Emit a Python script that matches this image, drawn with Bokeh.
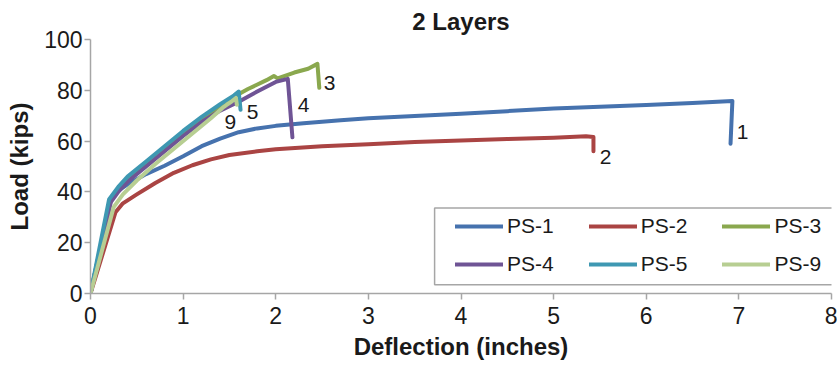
from bokeh.plotting import figure
from bokeh.models import Legend, LegendItem, Range1d, FixedTicker, BoxAnnotation
from bokeh.core.properties import value
from bokeh.embed import file_html
from bokeh.resources import INLINE

# ---- data ----
ps1_x = [0, 0.22, 0.3, 0.4, 0.5, 0.6, 0.8, 1.0, 1.2, 1.4, 1.6, 1.8, 2.0, 2.3, 2.7, 3.0, 3.5, 4.0, 4.5, 5.0, 5.5, 6.0, 6.5, 6.93, 6.91]
ps1_y = [0, 37, 40.5, 43, 45, 47, 50.3, 54, 58, 61, 63.5, 65, 66, 67, 68.2, 69, 69.9, 70.8, 71.8, 72.8, 73.5, 74.2, 75, 75.8, 59]

ps2_x = [0, 0.27, 0.35, 0.5, 0.7, 0.9, 1.1, 1.3, 1.5, 1.8, 2.0, 2.5, 3.0, 3.5, 4.0, 4.5, 5.0, 5.35, 5.43, 5.43]
ps2_y = [0, 32, 35.5, 39, 43.5, 47.5, 50.5, 52.8, 54.5, 56, 56.8, 58, 58.8, 59.6, 60.2, 60.8, 61.3, 61.9, 61.6, 56]

ps3_x = [0, 0.22, 0.3, 0.4, 0.5, 0.7, 0.9, 1.1, 1.3, 1.5, 1.7, 1.9, 1.98, 2.02, 2.2, 2.35, 2.45, 2.47]
ps3_y = [0, 37, 41, 45, 48.5, 54.5, 60, 65.5, 71, 76.5, 80.5, 84, 85.6, 84.7, 87, 88.5, 90.4, 81]

ps4_x = [0, 0.22, 0.3, 0.4, 0.6, 0.8, 1.0, 1.2, 1.4, 1.6, 1.8, 2.0, 2.13, 2.18]
ps4_y = [0, 36, 40, 44, 50, 56, 62, 67.5, 72, 75.5, 79.5, 83.3, 84.5, 61.5]

ps5_x = [0, 0.2, 0.3, 0.4, 0.6, 0.8, 1.0, 1.2, 1.4, 1.55, 1.6, 1.62]
ps5_y = [0, 37, 42, 46, 52, 58, 64, 69.5, 74.5, 78, 79.5, 72.3]

ps9_x = [0, 0.25, 0.35, 0.5, 0.7, 0.9, 1.1, 1.3, 1.44, 1.47, 1.52, 1.57, 1.58]
ps9_y = [0, 34, 39, 44.5, 51, 57, 63, 69, 73.5, 74.3, 75.5, 77, 74.3]

series_names = ["PS-1", "PS-2", "PS-3", "PS-4", "PS-5", "PS-9"]
series_colors = ["#4672AE", "#AA4443", "#8AA84E", "#6F5495", "#3E98B2", "#B7CE92"]

end_labels = ["1", "2", "3", "4", "5", "9"]
end_label_x = [7.04, 5.56, 2.58, 2.30, 1.75, 1.51]
end_label_y = [63.4, 53.6, 82.7, 74.3, 71.6, 67.5]

x_ticks = [0, 1, 2, 3, 4, 5, 6, 7, 8]
y_ticks = [0, 20, 40, 60, 80, 100]

FONT = "Liberation Sans"
AXIS_GRAY = "#a6a6a6"
TXT = "#1a1a1a"

p = figure(width=837, height=365, output_backend="svg", toolbar_location=None,
           x_range=Range1d(0, 8), y_range=Range1d(0, 100),
           min_border_left=90, min_border_right=6, min_border_top=37, min_border_bottom=72,
           title="2 Layers")
p.outline_line_color = None
p.xgrid.grid_line_color = None
p.ygrid.grid_line_color = None
p.background_fill_color = "white"
p.border_fill_color = "white"

p.title.align = "center"
p.title.text_font = FONT
p.title.text_font_size = "24px"
p.title.text_font_style = "bold"
p.title.text_color = TXT

for ax, ticks in ((p.xaxis[0], x_ticks), (p.yaxis[0], y_ticks)):
    ax.ticker = FixedTicker(ticks=ticks)
    ax.minor_tick_line_color = None
    ax.axis_line_color = AXIS_GRAY
    ax.axis_line_width = 1.5
    ax.major_tick_line_color = AXIS_GRAY
    ax.major_tick_line_width = 1.5
    ax.major_tick_in = 0
    ax.major_tick_out = 6
    ax.major_label_text_font = FONT
    ax.major_label_text_font_size = "23px"
    ax.major_label_text_color = TXT
    ax.axis_label_text_font = FONT
    ax.axis_label_text_font_size = "24px"
    ax.axis_label_text_font_style = "bold"
    ax.axis_label_text_color = TXT

p.xaxis.axis_label = "Deflection (inches)"
p.yaxis.axis_label = "Load (kips)"
p.xaxis.major_label_standoff = 7
p.yaxis.major_label_standoff = 2
p.xaxis.axis_label_standoff = 6
p.yaxis.axis_label_standoff = 8

xs = [ps1_x, ps2_x, ps3_x, ps4_x, ps5_x, ps9_x]
ys = [ps1_y, ps2_y, ps3_y, ps4_y, ps5_y, ps9_y]
items = []
for name, col, x, y in zip(series_names, series_colors, xs, ys):
    r = p.line(x, y, line_color=col, line_width=4, line_cap="round", line_join="round")
    items.append(LegendItem(label=name, renderers=[r]))

p.text(x=end_label_x, y=end_label_y, text=end_labels, text_font=value(FONT),
       text_font_size="21px", text_color=TXT, text_align="center", text_baseline="middle")

# legend frame
box = BoxAnnotation(left=3.715, right=8.02, bottom=3.4, top=33.7,
                    fill_color="white", fill_alpha=1.0,
                    line_color=AXIS_GRAY, line_width=1.5, line_alpha=1.0)
p.add_layout(box)

def row_legend(row_items, loc):
    return Legend(items=row_items, orientation="horizontal", location=loc,
                  padding=0, spacing=35, margin=0,
                  glyph_width=48, glyph_height=22, label_height=22, label_standoff=4,
                  label_text_font=FONT, label_text_font_size="21px", label_text_color=TXT,
                  border_line_color=None, background_fill_alpha=0.0)

p.add_layout(row_legend(items[:3], (365, 55)), "center")
p.add_layout(row_legend(items[3:], (365, 17)), "center")

open("out.html", "w").write(file_html(p, INLINE))
